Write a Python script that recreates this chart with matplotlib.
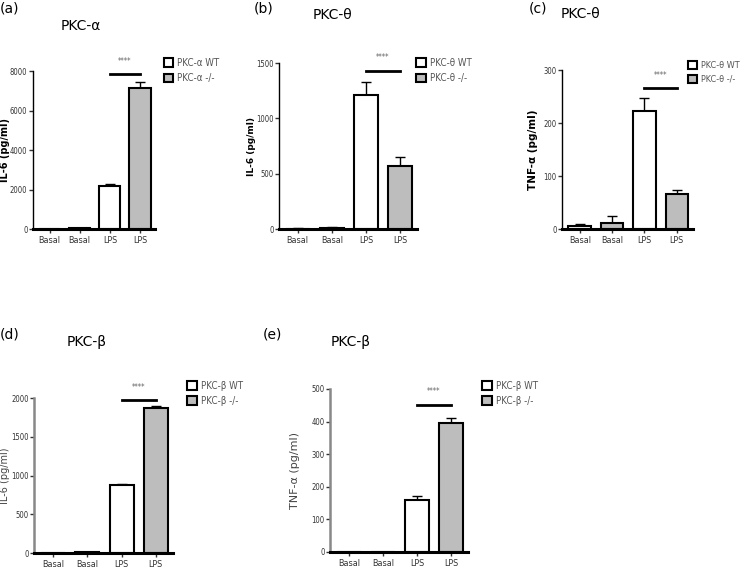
"""Five-panel cytokine bar chart (PKC-alpha / theta / beta, WT vs knockout)."""
import matplotlib

matplotlib.use("Agg")
import matplotlib.pyplot as plt
from matplotlib.patches import Patch

# ---- data ----------------------------------------------------------------
groups = ["Basal", "Basal", "LPS", "LPS"]

a_mean = [20, 35, 2176, 7146]
a_err = [5, 10, 117, 285]
b_mean = [3, 10, 1211, 572]
b_err = [2, 5, 114, 76]
c_mean = [6, 11, 223, 67]
c_err = [3, 14, 24, 7]
d_mean = [2, 10, 873, 1867]
d_err = [1, 4, 17, 25]
e_mean = [0, 0, 158, 397]
e_err = [0, 0, 15, 13]

a_sig = 7833
b_sig = 1431
c_sig = 266
d_sig = 1978
e_sig = 452

WT, KO = "white", "#bdbdbd"
NARROW = dict(family=["Liberation Sans Narrow", "DejaVu Sans"], stretch="condensed")

panels = [
    # tag, title, ylabel, means, errs, sig, yticks, legend labels, axes rect, bold,
    # legend anchor, tag pos, title pos, ylabel x (axes coords), ylabel size, legend size
    ("(a)", "PKC-α", "IL-6 (pg/ml)", a_mean, a_err, a_sig, [0, 2000, 4000, 6000, 8000],
     ["PKC-α WT", "PKC-α -/-"], [0.0446, 0.5975, 0.165, 0.2777], True,
     (0.216, 0.905), (0.0, 0.997), (0.109, 0.967), -0.185, 7, 7),
    ("(b)", "PKC-θ", "IL-6 (pg/ml)", b_mean, b_err, b_sig, [0, 500, 1000, 1500],
     ["PKC-θ WT", "PKC-θ -/-"], [0.377, 0.5975, 0.1865, 0.2917], True,
     (0.557, 0.905), (0.343, 0.997), (0.45, 0.986), -0.165, 6.5, 7),
    ("(c)", "PKC-θ", "TNF-α (pg/ml)", c_mean, c_err, c_sig, [0, 100, 200, 300],
     ["PKC-θ WT", "PKC-θ -/-"], [0.7595, 0.5975, 0.177, 0.2794], True,
     (0.925, 0.9), (0.714, 0.997), (0.785, 0.988), -0.18, 7.5, 6.5),
    ("(d)", "PKC-β", "IL-6 (pg/ml)", d_mean, d_err, d_sig, [0, 500, 1000, 1500, 2000],
     ["PKC-β WT", "PKC-β -/-"], [0.046, 0.0281, 0.1878, 0.2724], False,
     (0.248, 0.338), (0.0, 0.424), (0.117, 0.411), -0.17, 7, 7),
    ("(e)", "PKC-β", "TNF-α (pg/ml)", e_mean, e_err, e_sig, [0, 100, 200, 300, 400, 500],
     ["PKC-β WT", "PKC-β -/-"], [0.446, 0.0299, 0.1865, 0.2865], False,
     (0.646, 0.338), (0.355, 0.424), (0.474, 0.411), -0.217, 8, 7),
]

fig = plt.figure(figsize=(7.4, 5.69), dpi=100)

for (tag, title, ylab, mean, err, sig, yticks, leg, rect, bold,
     lanchor, tagpos, titlepos, ylx, ylsize, legsize) in panels:
    ax = fig.add_axes(rect)
    x = range(len(groups))
    colors = [WT, KO, WT, KO]
    ax.bar(x, mean, width=0.7, color=colors, edgecolor="black", lw=1.5, zorder=2)
    ax.errorbar(x, mean, yerr=[[0] * 4, err], fmt="none", ecolor="black",
                elinewidth=1, capsize=3.5, capthick=1, zorder=1)
    top = yticks[-1]
    ax.plot([2.0, 3.0], [sig, sig], color="black", lw=2, clip_on=False)
    ax.text(2.5, sig + top * 0.05, "****", ha="center", va="bottom",
            fontsize=5.5, color="#666666", **NARROW)

    ax.set_xlim(-0.55, 3.5)
    ax.set_ylim(0, top)
    ax.set_yticks(yticks)
    ax.set_xticks(list(x))
    ax.set_xticklabels(groups)
    for s in ("top", "right"):
        ax.spines[s].set_visible(False)
    ax.spines["bottom"].set_linewidth(2.2)
    if bold:
        ax.spines["left"].set_linewidth(1.0)
        ax.spines["left"].set_color("black")
    else:
        ax.spines["left"].set_linewidth(1.8)
        ax.spines["left"].set_color("#888888")
    ax.tick_params(axis="y", length=3, width=1, labelsize=5.5, pad=1, colors="#333333")
    ax.tick_params(axis="x", length=3, width=1, labelsize=6.5, pad=2, colors="#333333")
    for lbl in ax.get_xticklabels() + ax.get_yticklabels():
        lbl.set_family(NARROW["family"])
        lbl.set_stretch("condensed")
    ax.set_ylabel(ylab, fontsize=ylsize, fontweight="bold" if bold else "normal",
                  color="black" if bold else "#444444")
    ax.yaxis.set_label_coords(ylx, 0.5)

    handles = [Patch(facecolor=WT, edgecolor="black", lw=1.5),
               Patch(facecolor=KO, edgecolor="black", lw=1.5)]
    fig.legend(handles, leg, loc="upper left", bbox_to_anchor=lanchor,
               frameon=False, handlelength=1.0, handleheight=1.0, handletextpad=0.4,
               labelspacing=0.55, borderaxespad=0,
               prop={"family": NARROW["family"], "stretch": "condensed", "size": legsize},
               labelcolor="#555555")

    fig.text(*tagpos, tag, fontsize=10, va="top", ha="left")
    fig.text(*titlepos, title, fontsize=10, va="top", ha="center")

fig.savefig("out.png", dpi=100)
